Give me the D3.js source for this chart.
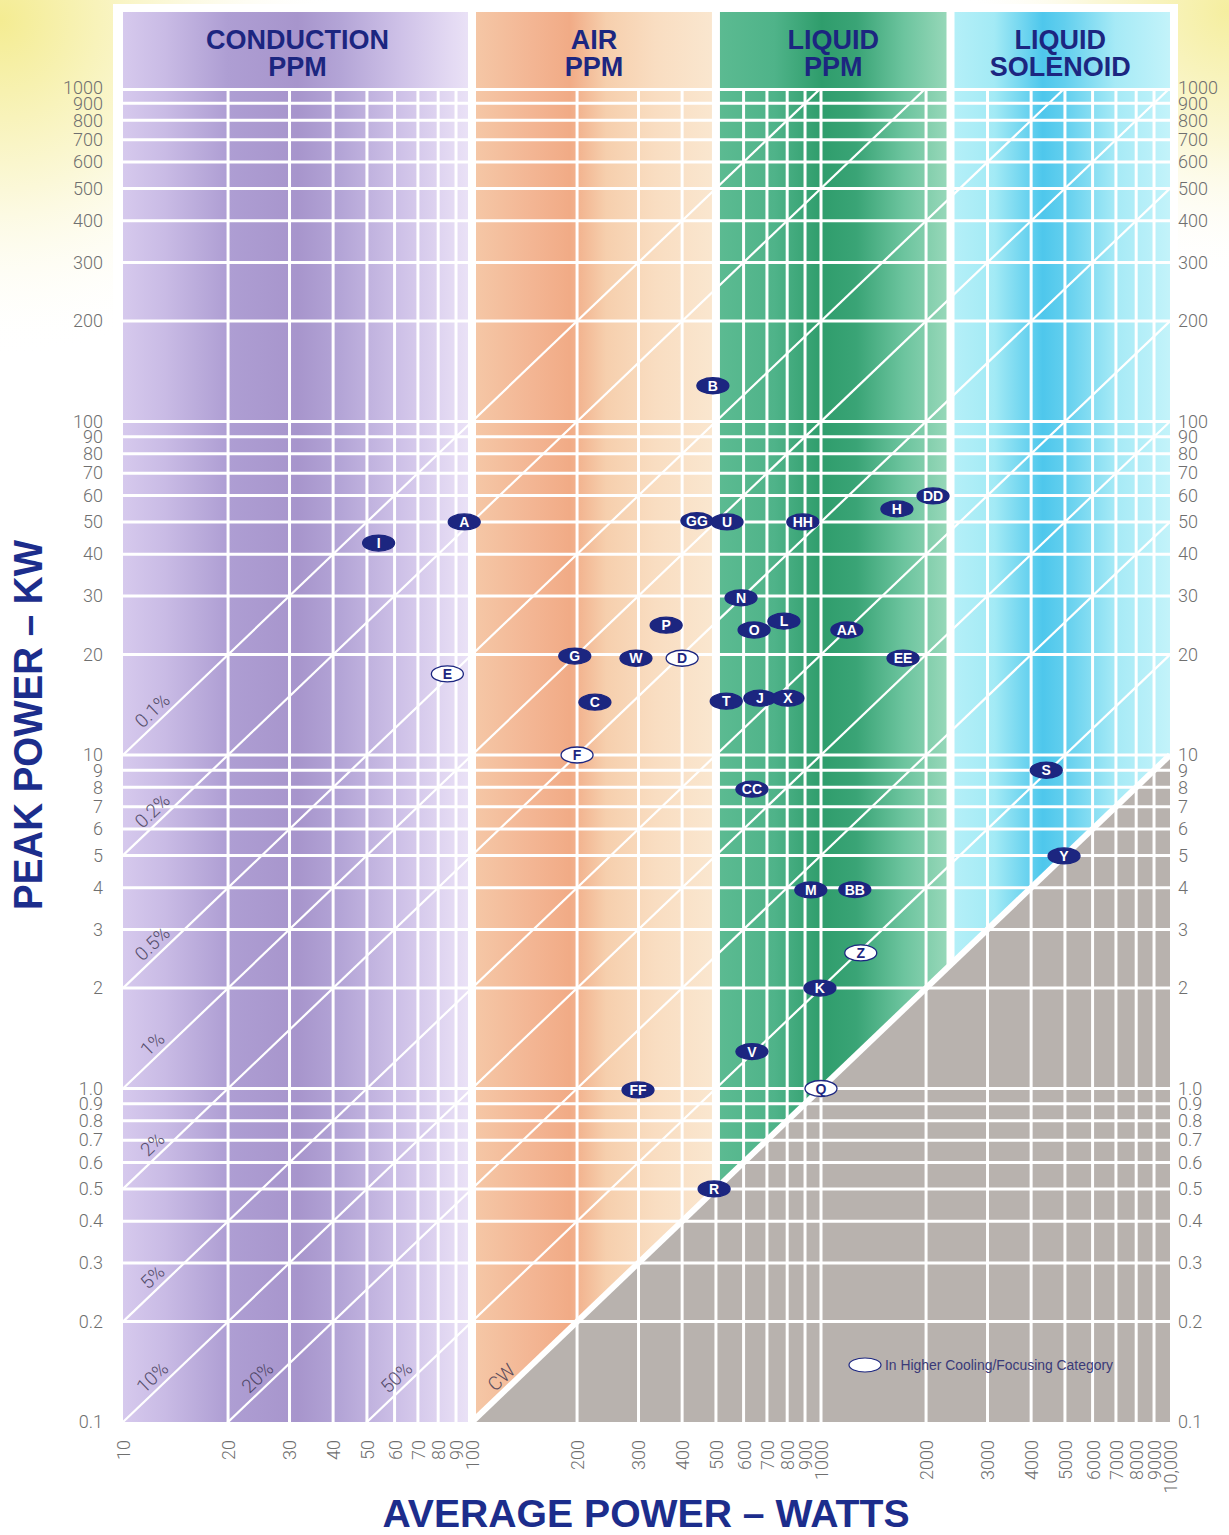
<!DOCTYPE html>
<html>
    <head>
        <title>Peak power vs average power</title>
        <script src="https://d3js.org/d3.v7.min.js"></script>
        <style>
            body { margin: 0; background: #fff; }
            svg text { font-family: "Liberation Sans", Arial, sans-serif; }
            .num { font-family: Roboto, "Liberation Sans", sans-serif; font-weight: 300; font-size: 18px; fill: #6f6f6f; }
        </style>
    </head>
    <body>
        <div id="chart"></div>
        <script>
            // ---- data ----
            let xTicks = [10,20,30,40,50,60,70,80,90,100,200,300,400,500,600,700,800,900,1000,
                          2000,3000,4000,5000,6000,7000,8000,9000,10000];
            let xTickLabels = ["10","20","30","40","50","60","70","80","90","100","200","300","400","500",
                               "600","700","800","900","1000","2000","3000","4000","5000","6000","7000",
                               "8000","9000","10,000"];
            let yTicks = [0.1,0.2,0.3,0.4,0.5,0.6,0.7,0.8,0.9,1,2,3,4,5,6,7,8,9,10,20,30,40,50,60,70,80,90,
                          100,200,300,400,500,600,700,800,900,1000];
            let yTickLabels = ["0.1","0.2","0.3","0.4","0.5","0.6","0.7","0.8","0.9","1.0","2","3","4","5",
                               "6","7","8","9","10","20","30","40","50","60","70","80","90","100","200",
                               "300","400","500","600","700","800","900","1000"];

            // cooling categories (band edges in watts)
            let bandNames = [["CONDUCTION","PPM"],["AIR","PPM"],["LIQUID","PPM"],["LIQUID","SOLENOID"]];
            let bandEdges = [10, 100, 500, 2350, 10000];

            // duty cycle lines (peak = average / duty)
            let dutyCycles = [0.001, 0.002, 0.005, 0.01, 0.02, 0.05, 0.1, 0.2, 0.5, 1];
            let dutyLabels = ["0.1%","0.2%","0.5%","1%","2%","5%","10%","20%","50%","CW"];

            // tubes
            let tubeNames = ["A","B","C","D","E","F","G","H","I","J","K","L","M","N","O","P","Q","R",
                             "S","T","U","V","W","X","Y","Z","AA","BB","CC","DD","EE","FF","GG","HH"];
            let tubeAvgW  = [95,490,225,400,85,200,197,1650,54,668,993,783,935,590,643,360,1000,494,
                             4420,535,538,634,295,804,4970,1300,1186,1250,634,2094,1718,299,441,887];
            let tubePeakKW = [50,128,14.4,19.5,17.5,10,19.8,54.7,43.2,14.8,2.0,25.2,3.94,29.6,23.7,24.5,1.0,0.5,
                              9.0,14.5,50,1.29,19.5,14.8,4.98,2.55,23.7,3.95,7.9,59.8,19.5,0.99,50.4,50];
            let tubeHigher = ["D","E","F","Q","Z"];   // in higher cooling/focusing category

            // ---- layout ----
            let W = 1229, H = 1535;
            let plot = { left: 123, right: 1170, top: 88, bottom: 1422, headTop: 12 };
            let navy = "#1c2680";

            let x = d3.scaleLog().domain([10, 10000]).range([plot.left, plot.right]);
            let y = d3.scaleLog().domain([0.1, 1000]).range([plot.bottom, plot.top]);

            let svg = d3.select("#chart").append("svg")
                        .attr("width", W).attr("height", H);
            let defs = svg.append("defs");

            // yellowish page corners
            function radial(id, cx, cy, r, c0) {
                let g = defs.append("radialGradient").attr("id", id)
                            .attr("gradientUnits", "userSpaceOnUse")
                            .attr("cx", cx).attr("cy", cy).attr("r", r);
                g.append("stop").attr("offset", 0).attr("stop-color", c0);
                g.append("stop").attr("offset", 0.5).attr("stop-color", "#fbf8d8");
                g.append("stop").attr("offset", 1).attr("stop-color", "#ffffff").attr("stop-opacity", 0);
            }
            radial("bgL", 0, 20, 340, "#f4ec92");
            radial("bgR", W, 10, 270, "#f5ee9f");
            svg.append("rect").attr("width", W).attr("height", H).style("fill", "#fff");
            svg.append("rect").attr("width", W).attr("height", 420).style("fill", "url(#bgL)");
            svg.append("rect").attr("width", W).attr("height", 320).style("fill", "url(#bgR)");
            svg.append("rect").attr("x", 113).attr("y", 4)
               .attr("width", 1178 - 113).attr("height", 1431 - 4).style("fill", "#fff");

            // band gradients
            let bandStops = [
                [[0,"#d6c9ed"],[0.12,"#c9bbe5"],[0.3,"#ae9ed3"],[0.5,"#a795cc"],[0.62,"#b3a4d6"],[0.8,"#cfc2e8"],[0.93,"#e2d8f2"],[1,"#ebe3f7"]],
                [[0,"#f5c8a7"],[0.25,"#f3b593"],[0.4,"#f1ab86"],[0.55,"#f6cfad"],[0.75,"#f9ddc1"],[1,"#fae7d0"]],
                [[0,"#5cbb92"],[0.25,"#4fb389"],[0.45,"#2f9d6c"],[0.6,"#3aa476"],[0.8,"#6cc49e"],[1,"#9ad9bb"]],
                [[0,"#b6f0f8"],[0.2,"#a3eaf5"],[0.42,"#4ec7ec"],[0.52,"#62cfee"],[0.75,"#a6eaf6"],[1,"#c3f3fa"]]
            ];
            bandNames.forEach(function(n, i) {
                let g = defs.append("linearGradient").attr("id", "band" + i)
                            .attr("gradientUnits", "userSpaceOnUse")
                            .attr("x1", x(bandEdges[i])).attr("x2", x(bandEdges[i + 1]))
                            .attr("y1", 0).attr("y2", 0);
                bandStops[i].forEach(function(s) {
                    g.append("stop").attr("offset", s[0]).attr("stop-color", s[1]);
                });
            });

            // clip: plot area, and the part above the CW line
            defs.append("clipPath").attr("id", "clipPlot")
                .append("rect").attr("x", plot.left).attr("y", plot.top)
                .attr("width", plot.right - plot.left).attr("height", plot.bottom - plot.top);
            let abovePts = [[10,1000],[10000,1000],[10000,10],[100,0.1],[10,0.1]];
            defs.append("clipPath").attr("id", "clipAbove")
                .append("polygon")
                .attr("points", abovePts.map(p => x(p[0]) + "," + y(p[1])).join(" "));

            // bands (header + plot)
            svg.selectAll("rect.band").data(bandNames).join("rect")
               .attr("class", "band")
               .attr("x", (d, i) => x(bandEdges[i]))
               .attr("y", plot.headTop)
               .attr("width", (d, i) => x(bandEdges[i + 1]) - x(bandEdges[i]))
               .attr("height", plot.bottom - plot.headTop)
               .style("fill", (d, i) => "url(#band" + i + ")");

            // gray region below CW
            let belowPts = [[100,0.1],[10000,10],[10000,0.1]];
            svg.append("polygon")
               .attr("points", belowPts.map(p => x(p[0]) + "," + y(p[1])).join(" "))
               .style("fill", "#b8b2ae");

            // grid
            let grid = svg.append("g").attr("clip-path", "url(#clipPlot)");
            grid.selectAll("line.h").data(yTicks.filter(d => d > 0.1)).join("line")
                .attr("class", "h")
                .attr("x1", plot.left).attr("x2", plot.right)
                .attr("y1", d => y(d)).attr("y2", d => y(d))
                .style("stroke", "#fff").style("stroke-width", d => d == 1000 ? 6 : 3);
            grid.selectAll("line.v").data(xTicks.filter(d => d > 10 && d < 10000)).join("line")
                .attr("class", "v")
                .attr("x1", d => x(d)).attr("x2", d => x(d))
                .attr("y1", plot.top).attr("y2", plot.bottom)
                .style("stroke", "#fff").style("stroke-width", 3);

            // duty cycle diagonals, only above the CW line
            let diag = svg.append("g").attr("clip-path", "url(#clipAbove)");
            diag.selectAll("line").data(dutyCycles.slice(0, -1)).join("line")
                .attr("x1", x(10)).attr("y1", d => y(10 / (1000 * d)))
                .attr("x2", x(10000)).attr("y2", d => y(10000 / (1000 * d)))
                .style("stroke", "#fff").style("stroke-width", 2.2);

            // band separators down to the CW line
            svg.selectAll("rect.sep").data(bandEdges.slice(1, -1)).join("rect")
               .attr("class", "sep")
               .attr("x", d => x(d) - 4).attr("y", plot.headTop)
               .attr("width", 8)
               .attr("height", d => y(d / 1000) - plot.headTop)
               .style("fill", "#fff");

            // CW line
            svg.append("line").attr("clip-path", "url(#clipPlot)")
               .attr("x1", x(100)).attr("y1", y(0.1))
               .attr("x2", x(10000)).attr("y2", y(10))
               .style("stroke", "#fff").style("stroke-width", 6);

            // duty cycle labels, placed just above where each line enters the plot
            let ang = Math.atan2(y(10) - y(1), x(10) - x(1));
            let dir = [Math.cos(ang), Math.sin(ang)];
            let nrm = [dir[1], -dir[0]];
            svg.selectAll("text.duty").data(dutyCycles).join("text")
               .attr("class", "duty")
               .attr("transform", function(d) {
                   let p = 0.01 / d >= 0.1 ? [x(10), y(0.01 / d)] : [x(100 * d), y(0.1)];
                   let s = 52, n = 12;
                   let cx = p[0] + s * dir[0] + n * nrm[0];
                   let cy = p[1] + s * dir[1] + n * nrm[1];
                   return "translate(" + cx + "," + cy + ") rotate(" + (ang * 180 / Math.PI) + ")";
               })
               .attr("dy", "0.35em")
               .style("text-anchor", "middle")
               .style("font-family", "Roboto, 'Liberation Sans', sans-serif")
               .style("font-weight", 300)
               .style("font-size", "19px")
               .style("fill", "#3a3450").style("opacity", 0.82)
               .text((d, i) => dutyLabels[i]);

            // band headers
            let heads = svg.selectAll("g.head").data(bandNames).join("g")
                           .attr("class", "head")
                           .attr("transform", (d, i) => "translate(" + (x(bandEdges[i]) + x(bandEdges[i + 1])) / 2 + ",0)");
            heads.selectAll("text").data(d => d).join("text")
                 .attr("y", (d, j) => 49 + j * 27)
                 .style("text-anchor", "middle")
                 .style("font-weight", "bold").style("font-size", "27px")
                 .style("fill", navy)
                 .text(d => d);

            // axes
            let yLeft = svg.append("g").attr("transform", "translate(103,0)")
                           .call(d3.axisLeft(y).tickValues(yTicks).tickFormat((d, i) => yTickLabels[i])
                                   .tickSize(0).tickPadding(0));
            let yRight = svg.append("g").attr("transform", "translate(1178,0)")
                            .call(d3.axisRight(y).tickValues(yTicks).tickFormat((d, i) => yTickLabels[i])
                                    .tickSize(0).tickPadding(0));
            let xBottom = svg.append("g").attr("transform", "translate(0,1440)")
                             .call(d3.axisBottom(x).tickValues(xTicks).tickFormat((d, i) => xTickLabels[i])
                                     .tickSize(0).tickPadding(0));
            [yLeft, yRight, xBottom].forEach(function(a) {
                a.select(".domain").remove();
                a.selectAll("text").attr("class", "num").attr("fill", null)
                 .style("font-family", null).style("font-size", null);
                a.attr("font-family", null).attr("font-size", null);
            });
            xBottom.selectAll("text")
                   .attr("x", 0).attr("y", 0).attr("dy", "0.36em")
                   .attr("transform", "rotate(-90)")
                   .style("text-anchor", "end");

            // axis titles
            svg.append("text")
               .attr("transform", "translate(42,725) rotate(-90)")
               .style("text-anchor", "middle")
               .style("font-weight", "bold").style("font-size", "41px")
               .style("fill", "#1c2d8c")
               .attr("textLength", 370).attr("lengthAdjust", "spacingAndGlyphs")
               .text("PEAK POWER \u2013 KW");
            svg.append("text")
               .attr("x", 646).attr("y", 1527)
               .style("text-anchor", "middle")
               .style("font-weight", "bold").style("font-size", "39px")
               .style("fill", "#1c2d8c")
               .attr("textLength", 527).attr("lengthAdjust", "spacingAndGlyphs")
               .text("AVERAGE POWER \u2013 WATTS");

            // tube markers
            let order = d3.range(tubeNames.length).sort((a, b) => tubeAvgW[a] - tubeAvgW[b]);
            let tubes = svg.selectAll("g.tube").data(order).join("g")
                           .attr("class", "tube")
                           .attr("transform", i => "translate(" + x(tubeAvgW[i]) + "," + y(tubePeakKW[i]) + ")");
            tubes.append("ellipse")
                 .attr("rx", 16).attr("ry", 8)
                 .style("fill", i => tubeHigher.includes(tubeNames[i]) ? "#fff" : navy)
                 .style("stroke", navy).style("stroke-width", 1.3);
            tubes.append("text")
                 .attr("dy", "0.36em")
                 .style("text-anchor", "middle")
                 .style("font-weight", "bold").style("font-size", "14px")
                 .style("fill", i => tubeHigher.includes(tubeNames[i]) ? navy : "#fff")
                 .text(i => tubeNames[i]);

            // legend
            svg.append("ellipse")
               .attr("cx", 865).attr("cy", 1365).attr("rx", 16).attr("ry", 7)
               .style("fill", "#fff").style("stroke", navy).style("stroke-width", 1.2);
            svg.append("text")
               .attr("x", 885).attr("y", 1370)
               .style("font-size", "14px").style("fill", "#3a3a78")
               .attr("textLength", 228).attr("lengthAdjust", "spacingAndGlyphs")
               .text("In Higher Cooling/Focusing Category");
        </script>
    </body>
</html>
